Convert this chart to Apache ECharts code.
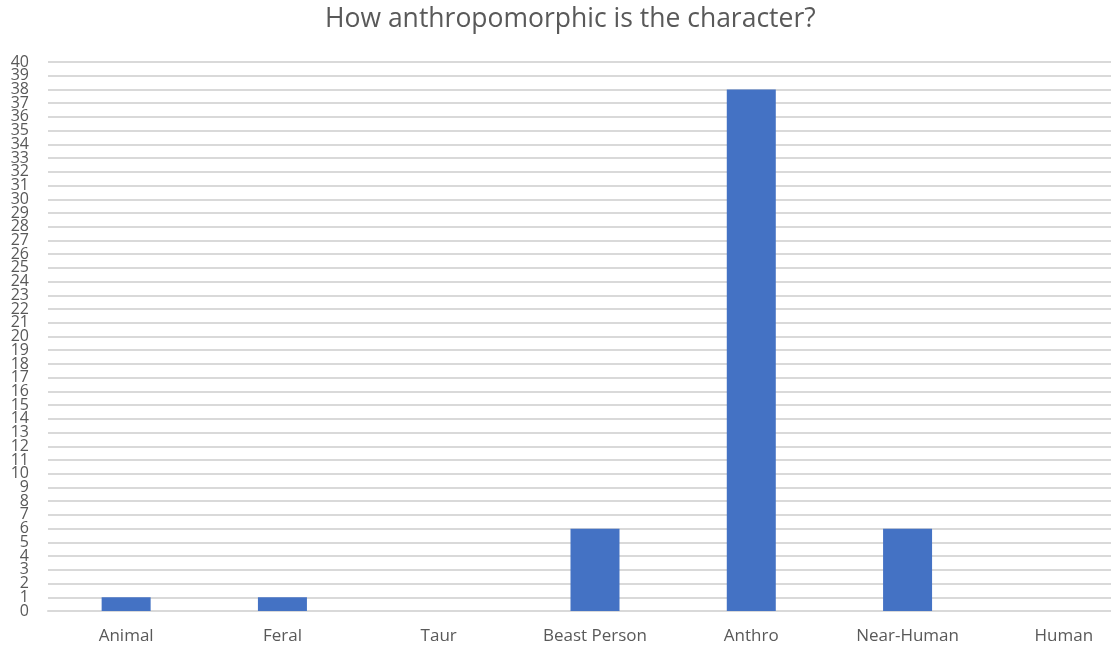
<!DOCTYPE html>
<html>
<head>
<meta charset="utf-8">
<script src="https://cdn.jsdelivr.net/npm/echarts@6/dist/echarts.min.js"></script>
<style>
  html, body { margin: 0; padding: 0; background: #fff; }
  #chart { width: 1111px; height: 651px; }
</style>
</head>
<body>
<div id="chart"></div>
<script>
const categories = ['Animal', 'Feral', 'Taur', 'Beast Person', 'Anthro', 'Near-Human', 'Human']
const counts = [1, 1, 0, 6, 38, 6, 0]
const yMin = 0
const yMax = 40
const yStep = 1

const textColor = '#595959'
const font = '"Open Sans", "Noto Sans", sans-serif'

const labelStyle = {
  color: textColor,
  fontSize: 16,
  fontFamily: font,
  margin: 19,
  lineHeight: 12
}

const myChart = echarts.init(document.getElementById('chart'))
myChart.setOption({
  animation: false,
  title: {
    text: 'How anthropomorphic is the character?',
    left: 320,
    top: 1,
    textStyle: { fontSize: 26.5, fontWeight: 'normal', color: textColor, fontFamily: font }
  },
  // plot area runs past the right edge in the original, so Human sits near the edge
  grid: { left: 48, width: 1094, top: 62, bottom: 40, outerBoundsMode: 'none', containLabel: false },
  xAxis: {
    type: 'category',
    data: categories,
    axisTick: { show: false },
    axisLine: { show: true, lineStyle: { color: '#d9d9d9', width: 2 } },
    axisLabel: { color: textColor, fontSize: 17, fontFamily: font, margin: 17 }
  },
  // labels are packed tight, so even and odd labels go on two stacked axes
  // (otherwise echarts drops the ones next to 0 and 40)
  yAxis: [
    {
      type: 'value',
      min: yMin,
      max: yMax,
      interval: yStep * 2,
      axisLine: { show: false },
      axisTick: { show: false },
      splitLine: { show: false },
      axisLabel: Object.assign({ showMinLabel: true, showMaxLabel: true }, labelStyle)
    },
    {
      type: 'value',
      position: 'left',
      offset: 0,
      min: yMin,
      max: yMax,
      interval: yStep,
      axisLine: { show: false },
      axisTick: { show: false },
      splitLine: { lineStyle: { color: '#d9d9d9', width: 2 } },
      axisLabel: Object.assign({
        showMinLabel: false,
        showMaxLabel: false,
        formatter: v => (v % 2 === 1 ? String(v) : '')
      }, labelStyle)
    }
  ],
  series: [{
    type: 'bar',
    data: counts,
    barWidth: 49,
    itemStyle: { color: '#4472c4' }
  }]
})
</script>
</body>
</html>
